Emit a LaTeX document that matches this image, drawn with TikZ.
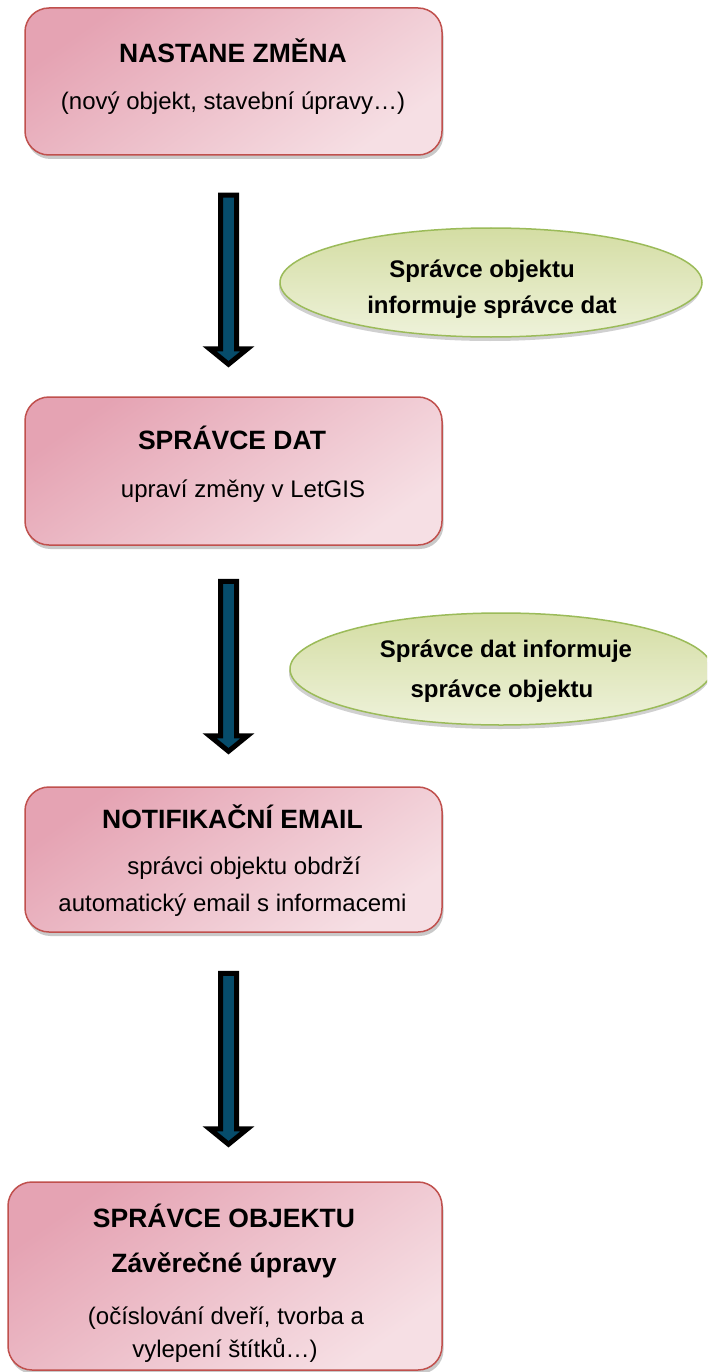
\documentclass[tikz,border=0pt]{standalone}
\usepackage{fontspec}
\setmainfont{Liberation Sans}
\usetikzlibrary{shapes.geometric,shadows,calc}
\definecolor{pinkdark}{HTML}{E5A3B3}
\definecolor{pinklight}{HTML}{F6DFE4}
\definecolor{boxborder}{HTML}{C0504D}
\definecolor{greendark}{HTML}{D4DDA3}
\definecolor{greenlight}{HTML}{EEF2DA}
\definecolor{ellborder}{HTML}{9BBB59}
\definecolor{arrowblue}{HTML}{064C6B}
\tikzset{
  stepbox/.style={rectangle, rounded corners=24pt, draw=boxborder, line width=1.5pt,
    top color=pinkdark, bottom color=pinklight, shading angle=35,
    minimum width=417pt, inner sep=0pt,
    drop shadow={shadow xshift=1.5pt, shadow yshift=-4pt, opacity=0.35, fill=black!60}},
  note/.style={ellipse, draw=ellborder, line width=1.5pt,
    top color=greendark, bottom color=greenlight,
    minimum width=422pt, inner sep=0pt,
    drop shadow={shadow xshift=-1pt, shadow yshift=-4pt, opacity=0.3, fill=black!60}},
  ttl/.style={anchor=base, inner sep=0pt, font=\fontsize{26.5}{30}\selectfont\bfseries},
  txt/.style={anchor=base, inner sep=0pt, font=\fontsize{24}{28}\selectfont},
  ntxt/.style={anchor=base, inner sep=0pt, font=\fontsize{24}{28}\selectfont\bfseries},
  barrow/.style={draw=black, line width=5pt, fill=arrowblue, line join=miter, miter limit=10}
}
\newcommand\blockarrow[2]{%
  \path[barrow] ($(#1)+(-8,0)$) -- ($(#1)+(8,0)$) -- ($(#2)+(8,-15.5)$) -- ($(#2)+(19,-15.5)$)
    -- (#2) -- ($(#2)+(-19,-15.5)$) -- ($(#2)+(-8,-15.5)$) -- cycle;}
\begin{document}
\begin{tikzpicture}[x=1pt,y=-1pt]
\useasboundingbox (0,0) rectangle (707,1372);
\clip (0,0) rectangle (707,1372);
\fill[white] (0,0) rectangle (707,1372);

% boxes
\node[stepbox, minimum height=147pt] (b1) at (233.5,81.5) {};
\node[stepbox, minimum height=148pt] (b2) at (233.5,471) {};
\node[stepbox, minimum height=145pt] (b3) at (233.5,859.5) {};
\node[stepbox, minimum height=188pt, minimum width=434pt] (b4) at (225,1276) {};

% ellipses
\node[note, minimum height=109pt] (e1) at (491,282.5) {};
\node[note, minimum height=112pt] (e2) at (501,669) {};

% box texts
\node[ttl] (t1a) at (233,63) {NASTANE ZMĚNA};
\node[txt] (t1b) at (233,110) {(nový objekt, stavební úpravy…)};
\node[ttl] (t2a) at (232,449) {SPRÁVCE DAT};
\node[txt] (t2b) at (243,497) {upraví změny v LetGIS};
\node[ttl] (t3a) at (232.5,828) {NOTIFIKAČNÍ EMAIL};
\node[txt] (t3b) at (244,874) {správci objektu obdrží};
\node[txt] (t3c) at (232.5,911) {automatický email s informacemi};
\node[ttl] (t4a) at (224,1227) {SPRÁVCE OBJEKTU};
\node[ttl] (t4b) at (224,1272) {Závěrečné úpravy};
\node[txt] (t4c) at (226,1324) {(očíslování dveří, tvorba a};
\node[txt] (t4d) at (225,1357) {vylepení štítků…)};

% ellipse texts
\node[ntxt] (e1a) at (482,277) {Správce objektu};
\node[ntxt] (e1b) at (492,313) {informuje správce dat};
\node[ntxt] (e2a) at (506,657) {Správce dat informuje};
\node[ntxt] (e2b) at (502,697) {správce objektu};

% arrows between boxes
\coordinate (a1s) at ($(b1.south)+(-5,39.5)$);
\coordinate (a1e) at ($(b2.north)+(-5,-32)$);
\coordinate (a2s) at ($(b2.south)+(-5,35.5)$);
\coordinate (a2e) at ($(b3.north)+(-5,-35)$);
\coordinate (a3s) at ($(b3.south)+(-5,40.5)$);
\coordinate (a3e) at ($(b4.north)+(3.5,-37)$);
\blockarrow{a1s}{a1e}
\blockarrow{a2s}{a2e}
\blockarrow{a3s}{a3e}
\end{tikzpicture}
\end{document}
